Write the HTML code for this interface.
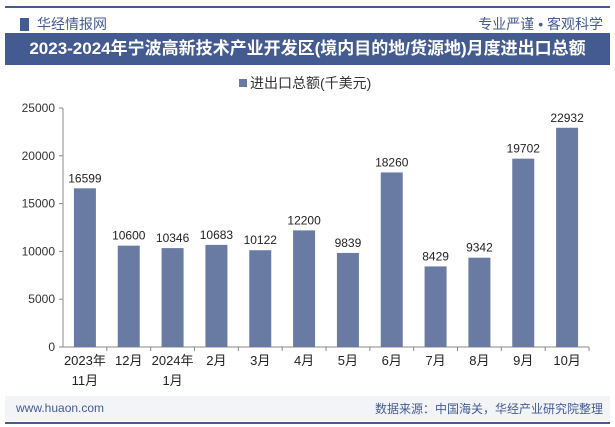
<!DOCTYPE html>
<html><head><meta charset="utf-8"><style>
body{margin:0;width:615px;height:427px;background:#fff;font-family:"Liberation Sans","Noto Sans CJK SC",sans-serif;overflow:hidden;position:relative}
.abs{position:absolute}
</style></head><body>
<div class="abs" style="left:5px;top:6px;width:605px;height:2px;background:#445b91"></div>
<div class="abs" style="left:20px;top:14px;font-size:14px;color:#445b91"><span style="display:inline-block;width:9px;height:13px;background:#445b91;vertical-align:-2px;margin-right:8px"></span>华经情报网</div>
<div class="abs" style="right:12px;top:14px;font-size:14px;color:#445b91">专业严谨 • 客观科学</div>
<div class="abs" style="left:5px;top:33px;width:605px;height:32px;background:#445b91;color:#fff;font-size:17px;font-weight:bold;line-height:32px;text-align:center">2023-2024年宁波高新技术产业开发区(境内目的地/货源地)月度进出口总额</div>
<div class="abs" style="left:5px;top:396px;width:605px;height:25px;background:#f2f4f8"></div>
<div class="abs" style="left:16px;top:401px;font-size:12px;color:#445b91">www.huaon.com</div>
<div class="abs" style="right:12px;top:400px;font-size:12px;color:#445b91">数据来源：中国海关，华经产业研究院整理</div>
<div class="abs" style="left:5px;top:422px;width:605px;height:2px;background:#445b91"></div>
<svg class="abs" style="left:0;top:0" width="615" height="427">
<g id="g"></g>
</svg>
<script>
const categories=["2023年|11月","12月","2024年|1月","2月","3月","4月","5月","6月","7月","8月","9月","10月"];
const values=[16599,10600,10346,10683,10122,12200,9839,18260,8429,9342,19702,22932];
const yTicks=[0,5000,10000,15000,20000,25000];
const g=document.getElementById('g');const NS='http://www.w3.org/2000/svg';
const x0=63,x1=589,yb=347,yt=108,ymax=25000;
const step=(x1-x0)/categories.length;
const y=v=>yb-(v/ymax)*(yb-yt);
function el(t,a,txt){const e=document.createElementNS(NS,t);for(const k in a)e.setAttribute(k,a[k]);if(txt!=null)e.textContent=txt;g.appendChild(e);return e;}
let leg=el('rect',{x:239,y:79,width:8,height:8,fill:'#6a7ba3'});

let lt=el('text',{x:250,y:88,'font-size':14,fill:'#333'},'进出口总额(千美元)');

let ax=el('line',{x1:x0,y1:yt,x2:x0,y2:yb,stroke:'#888'});

let bx=el('line',{x1:x0,y1:yb,x2:x1,y2:yb,stroke:'#888'});

yTicks.forEach(t=>{
 el('line',{x1:x0-4,y1:y(t),x2:x0,y2:y(t),stroke:'#888'});
 const tx=el('text',{x:x0-8,y:y(t)+4,'font-size':12,fill:'#333','text-anchor':'end'},t);
 
});
categories.forEach((c,i)=>{
 const cx=x0+step*(i+0.5);
 el('line',{x1:x0+step*(i+1),y1:yb,x2:x0+step*(i+1),y2:yb+4,stroke:'#888'});
 const b=el('rect',{x:cx-11,y:y(values[i]),width:22,height:yb-y(values[i]),fill:'#6a7ba3'});
 
 const v=el('text',{x:cx,y:y(values[i])-6,'font-size':12,fill:'#222','text-anchor':'middle'},values[i]);
 
 c.split('|').forEach((p,j)=>{
  const l=el('text',{x:cx,y:yb+18+j*20,'font-size':13,fill:'#222','text-anchor':'middle'},p);
  
 });
});
</script>
</body></html>
